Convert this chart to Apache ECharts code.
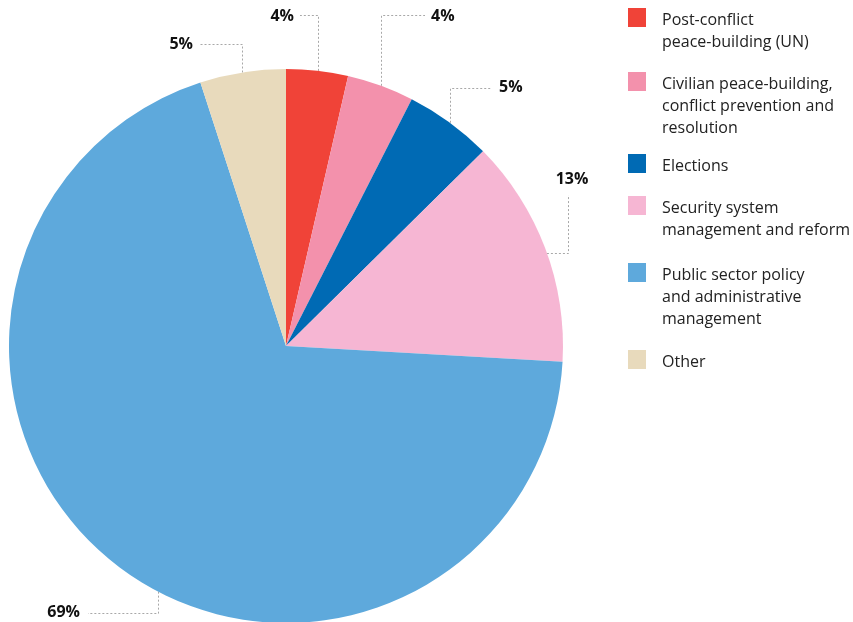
<!DOCTYPE html>
<html><head><meta charset="utf-8">
<script src="https://cdn.jsdelivr.net/npm/echarts@6/dist/echarts.min.js"></script>
<style>html,body{margin:0;padding:0;background:#fff}#chart{width:853px;height:622px}</style>
</head><body><div id="chart"></div>
<script>
// ---- data ----
const categories = [
  'Post-conflict\npeace-building (UN)',
  'Civilian peace-building,\nconflict prevention and\nresolution',
  'Elections',
  'Security system\nmanagement and reform',
  'Public sector policy\nand administrative\nmanagement',
  'Other'
];
const shares = [3.6, 3.9, 5.1, 13.3, 69.1, 5.0];
const colors = ['#F04338', '#F391AC', '#006AB4', '#F6B6D3', '#5EA9DC', '#E8DABC'];

// ---- layout ----
const CX = 286, CY = 346, R = 277;
const leaders = [
  {leg: 'v', at: 318, corner: 15,  end: 300, lx: 294, ly: 16,  align: 'right'},
  {leg: 'v', at: 381, corner: 15,  end: 425, lx: 431, ly: 16,  align: 'left'},
  {leg: 'v', at: 450, corner: 88,  end: 492, lx: 499, ly: 87,  align: 'left'},
  {leg: 'h', at: 253, corner: 568, end: 195, lx: 572, ly: 179, align: 'center'},
  {leg: 'v', at: 158, corner: 613, end: 88,  lx: 80,  ly: 612, align: 'right'},
  {leg: 'v', at: 242, corner: 44,  end: 200, lx: 193, ly: 44,  align: 'right'}
];
const legendTops = [8, 72, 154, 196, 263, 350];

function leaderPoints(L) {
  if (L.leg === 'v') {
    const dy = Math.sqrt(R * R - (L.at - CX) * (L.at - CX));
    const ya = L.corner < CY ? CY - dy : CY + dy;
    const x = L.at + 0.5, c = L.corner + 0.5;
    return [[x, ya], [x, c], [L.end, c]];
  } else {
    const dx = Math.sqrt(R * R - (L.at - CY) * (L.at - CY));
    const xa = L.corner > CX ? CX + dx : CX - dx;
    const y = L.at + 0.5, c = L.corner + 0.5;
    return [[xa, y], [c, y], [c, L.end]];
  }
}

const chart = echarts.init(document.getElementById('chart'));
chart.setOption({
  animation: false,
  backgroundColor: '#fff',
  series: [{
    type: 'pie',
    center: [CX, CY],
    radius: R,
    startAngle: 90,
    clockwise: true,
    avoidLabelOverlap: false,
    emphasis: {disabled: true},
    itemStyle: {borderWidth: 0},
    data: categories.map((name, i) => ({name: name, value: shares[i], itemStyle: {color: colors[i]}})),
    label: {
      show: true,
      formatter: p => Math.round(p.percent) + '%',
      fontFamily: '"Open Sans", sans-serif',
      fontWeight: 'bold',
      fontSize: 16,
      color: '#111'
    },
    labelLine: {
      show: true,
      lineStyle: {color: '#a8a8a8', width: 1, type: [2, 2]}
    },
    labelLayout: function (params) {
      const L = leaders[params.dataIndex];
      return {
        x: L.lx, y: L.ly, align: L.align, verticalAlign: 'middle',
        labelLinePoints: leaderPoints(L)
      };
    }
  }],
  graphic: categories.map((name, i) => ({
    type: 'group',
    x: 628,
    y: legendTops[i],
    children: [
      {type: 'rect', shape: {x: 0, y: 0, width: 18, height: 19}, style: {fill: colors[i]}},
      {type: 'text', x: 34, y: 1, style: {
        text: name, font: '16px "Open Sans", sans-serif', lineHeight: 22,
        fill: '#222', verticalAlign: 'top', align: 'left'
      }}
    ]
  }))
});
</script>
</body></html>
